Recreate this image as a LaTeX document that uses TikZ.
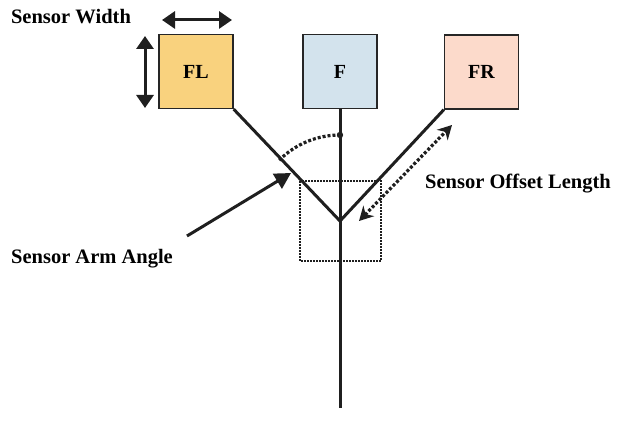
\documentclass[tikz,border=0pt]{standalone}
\usepackage{fontspec}
\setmainfont{Liberation Serif}
\usetikzlibrary{arrows.meta}

\definecolor{flfill}{RGB}{249,210,126}
\definecolor{ffill}{RGB}{211,227,237}
\definecolor{frfill}{RGB}{252,218,203}

\tikzset{
  sensorbox/.style={draw=black!85, line width=1.3pt, minimum width=74pt,
    minimum height=74pt, inner sep=0pt, font=\bfseries\fontsize{20}{22}\selectfont},
  caption/.style={inner sep=0pt, font=\bfseries\fontsize{20.5}{24}\selectfont},
  armline/.style={line width=3pt, draw=black!88},
  dimarrow/.style={line width=3pt, draw=black!88,
    {Triangle[length=13pt,width=17pt]}-{Triangle[length=13pt,width=17pt]}},
  pointer/.style={line width=3pt, draw=black!88, -{Triangle[length=16pt,width=17pt]}},
  dotarc/.style={line width=3.2pt, draw=black!88, dash pattern=on 3pt off 2pt},
  dotarrow/.style={line width=3.2pt, draw=black!88, dash pattern=on 3pt off 2pt,
    {Stealth[length=14pt,width=15pt]}-{Stealth[length=14pt,width=15pt]}},
  dotbox/.style={line width=2pt, draw=black!88, dash pattern=on 2pt off 1pt}
}

\begin{document}
\begin{tikzpicture}[x=1pt,y=-1pt]
\useasboundingbox (0,0) rectangle (621,438);

% sensor boxes
\node[sensorbox, fill=flfill] (fl) at (196,71.5) {FL};
\node[sensorbox, fill=ffill]  (f)  at (340,71.5) {F};
\node[sensorbox, fill=frfill] (fr) at (481.5,72) {FR};

% arms and stem
\coordinate (v) at (340,221);
\coordinate (bottom) at (340,408);
\draw[armline] (f.south) -- (bottom);
\draw[armline] (fl.south east) -- (v) -- (fr.south west);

% robot footprint
\coordinate (r1) at (300,181);
\coordinate (r2) at (381,261);
\draw[dotbox] (r1) rectangle (r2);

% arm angle arc
\draw[dotarc] (v) ++(225:86) arc[start angle=225, end angle=270, radius=86];
\fill[black!88] (340,135) circle (3.2pt);

% sensor width arrows
\coordinate (wh1) at (162,20);
\coordinate (wh2) at (232,20);
\draw[dimarrow] (wh1) -- (wh2);
\coordinate (wv1) at (145,36);
\coordinate (wv2) at (145,108);
\draw[dimarrow] (wv1) -- (wv2);

% offset length arrow
\coordinate (o1) at (359,221);
\coordinate (o2) at (452,125);
\draw[dotarrow] (o1) -- (o2);

% arm angle pointer
\coordinate (p1) at (187,236);
\coordinate (p2) at (291,173);
\draw[pointer] (p1) -- (p2);

% captions
\node[caption] (cw) at (71,17) {Sensor Width};
\node[caption] (ca) at (92,259) {Sensor Arm Angle};
\node[caption] (co) at (518,184) {Sensor Offset Length};
\end{tikzpicture}
\end{document}
